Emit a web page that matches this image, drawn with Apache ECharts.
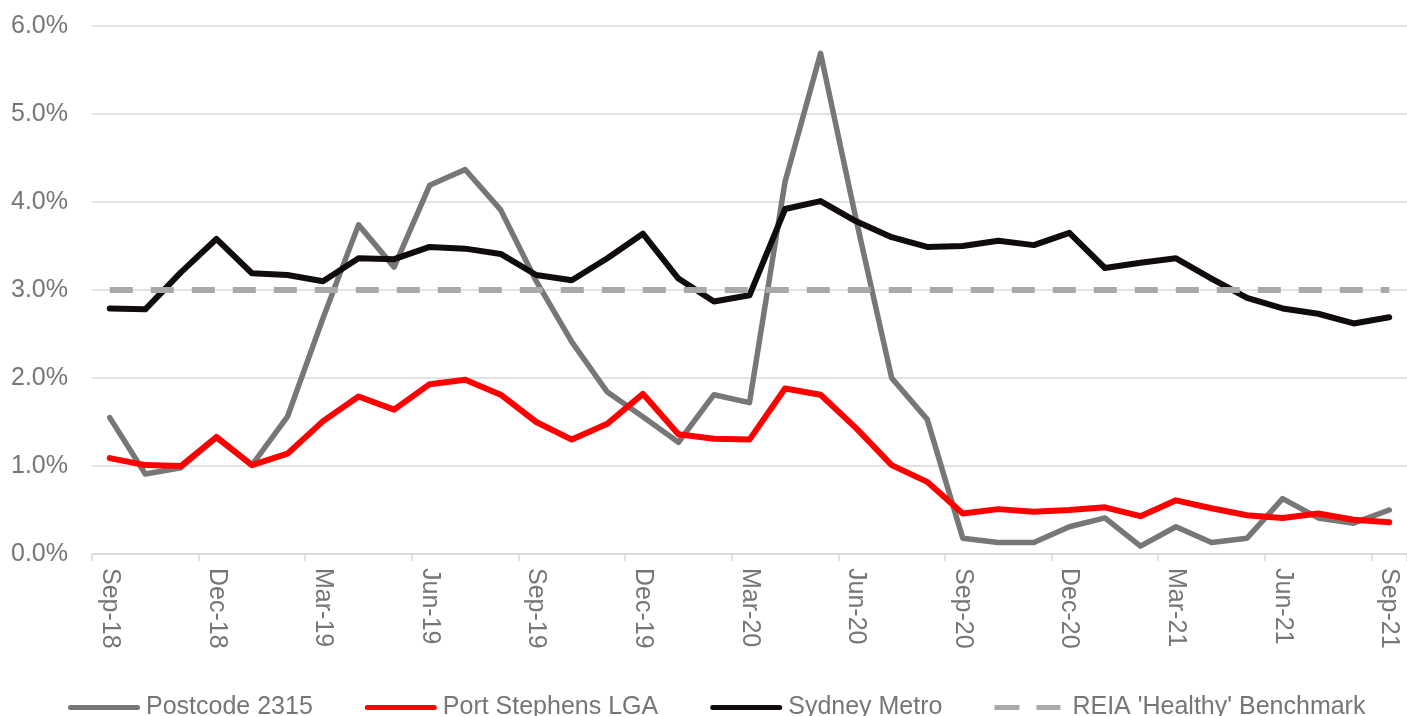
<!DOCTYPE html>
<html>
<head>
<meta charset="utf-8">
<title>Vacancy rates</title>
<script src="https://cdn.jsdelivr.net/npm/echarts@6/dist/echarts.min.js"></script>
<style>
  html, body { margin: 0; padding: 0; background: #fff; }
  #chart { width: 1407px; height: 716px; }
</style>
</head>
<body>
<div id="chart"></div>
<script>
// Monthly categories, Sep-18 to Sep-21
const months = [
  'Sep-18','Oct-18','Nov-18','Dec-18','Jan-19','Feb-19','Mar-19','Apr-19','May-19','Jun-19','Jul-19','Aug-19',
  'Sep-19','Oct-19','Nov-19','Dec-19','Jan-20','Feb-20','Mar-20','Apr-20','May-20','Jun-20','Jul-20','Aug-20',
  'Sep-20','Oct-20','Nov-20','Dec-20','Jan-21','Feb-21','Mar-21','Apr-21','May-21','Jun-21','Jul-21','Aug-21',
  'Sep-21'
];

// Vacancy rate, percent
const postcode2315 = [
  1.55, 0.91, 0.98, 1.32, 1.01, 1.56, 2.68, 3.74, 3.26, 4.19, 4.37, 3.91,
  3.10, 2.41, 1.84, 1.56, 1.27, 1.81, 1.72, 4.23, 5.69, 3.80, 2.00, 1.53,
  0.18, 0.13, 0.13, 0.31, 0.41, 0.09, 0.31, 0.13, 0.18, 0.63, 0.41, 0.35,
  0.50
];
const portStephens = [
  1.09, 1.01, 1.00, 1.33, 1.01, 1.14, 1.51, 1.79, 1.64, 1.93, 1.98, 1.81,
  1.50, 1.30, 1.48, 1.82, 1.36, 1.31, 1.30, 1.88, 1.81, 1.43, 1.01, 0.82,
  0.46, 0.51, 0.48, 0.50, 0.53, 0.43, 0.61, 0.52, 0.44, 0.41, 0.46, 0.39,
  0.36
];
const sydneyMetro = [
  2.79, 2.78, 3.20, 3.58, 3.19, 3.17, 3.10, 3.36, 3.35, 3.49, 3.47, 3.41,
  3.17, 3.11, 3.36, 3.64, 3.13, 2.87, 2.94, 3.92, 4.01, 3.78, 3.60, 3.49,
  3.50, 3.56, 3.51, 3.65, 3.25, 3.31, 3.36, 3.13, 2.91, 2.79, 2.73, 2.62,
  2.69
];
const benchmarkRate = 3.0;
const benchmark = months.map(() => benchmarkRate);

const seriesNames = ['Postcode 2315', 'Port Stephens LGA', 'Sydney Metro', "REIA 'Healthy' Benchmark"];

const textColor = '#767676';
const gridColor = '#D9D9D9';
const font = 'Liberation Sans, Arial, sans-serif';

// Legend keys: a solid bar, and two dashes for the benchmark
const solidKey = 'path://M2.5,0 H69.5 A2.5,2.5 0 0 1 69.5,5 H2.5 A2.5,2.5 0 0 1 2.5,0 Z';
const dashKey = 'path://M0,0 H25 V5 H0 Z M42,0 H66 V5 H42 Z M72,0 V5 Z';

function lineSeries(name, data, color, width, dash) {
  return {
    name: name,
    type: 'line',
    data: data,
    symbol: 'none',
    smooth: false,
    animation: false,
    lineStyle: { color: color, width: width, type: dash || 'solid', cap: dash ? 'butt' : 'round', join: 'round' },
    itemStyle: { color: color }
  };
}

const chart = echarts.init(document.getElementById('chart'), null, { renderer: 'canvas' });
chart.setOption({
  backgroundColor: '#ffffff',
  animation: false,
  textStyle: { fontFamily: font },
  grid: { left: 92, right: -6, top: 26, bottom: 162, containLabel: false },
  xAxis: {
    type: 'category',
    data: months,
    boundaryGap: true,
    axisLine: { show: true, lineStyle: { color: gridColor, width: 1.5 } },
    axisTick: { show: true, interval: 2, length: 7, alignWithLabel: false, lineStyle: { color: gridColor, width: 1.5 } },
    axisLabel: {
      interval: 2,
      rotate: -90,
      margin: 14,
      color: textColor,
      fontSize: 25,
      fontFamily: font
    },
    splitLine: { show: false }
  },
  yAxis: {
    type: 'value',
    min: 0,
    max: 6,
    interval: 1,
    axisLine: { show: false },
    axisTick: { show: false },
    axisLabel: {
      margin: 24,
      color: textColor,
      fontSize: 25,
      fontFamily: font,
      formatter: v => v.toFixed(1) + '%'
    },
    splitLine: { show: true, lineStyle: { color: gridColor, width: 1.5 } }
  },
  legend: {
    data: [
      { name: seriesNames[0], icon: solidKey },
      { name: seriesNames[1], icon: solidKey },
      { name: seriesNames[2], icon: solidKey },
      { name: seriesNames[3], icon: dashKey }
    ],
    left: 63,
    top: 690,
    itemWidth: 72,
    itemHeight: 5,
    itemGap: 52,
    textStyle: { color: textColor, fontSize: 25, fontFamily: font, padding: [0, 0, 0, 1] }
  },
  series: [
    lineSeries(seriesNames[0], postcode2315, '#777777', 5.5),
    lineSeries(seriesNames[1], portStephens, '#FF0000', 6),
    lineSeries(seriesNames[2], sydneyMetro, '#100C0C', 6),
    lineSeries(seriesNames[3], benchmark, '#A9A9AC', 6, [23, 18])
  ]
});
</script>
</body>
</html>
